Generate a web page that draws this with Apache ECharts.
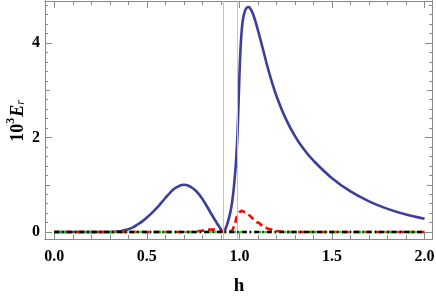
<!DOCTYPE html>
<html><head><meta charset="utf-8">
<script src="https://cdn.jsdelivr.net/npm/echarts@6/dist/echarts.min.js"></script>
<style>html,body{margin:0;padding:0;background:#fff}#c{width:436px;height:297px}</style>
</head><body><div id="c"></div>
<script>
const blueX = [0, 0.30, 0.325, 0.35, 0.375, 0.40, 0.425, 0.45, 0.475, 0.50, 0.525, 0.55, 0.575, 0.60, 0.625, 0.65, 0.675, 0.70, 0.725, 0.75, 0.775, 0.80, 0.825, 0.85, 0.875, 0.895, 0.913, 0.93, 0.94, 0.95, 0.96, 0.97, 0.98, 0.985, 0.99, 0.995, 1.00, 1.005, 1.01, 1.015, 1.02, 1.03, 1.04, 1.05, 1.06, 1.075, 1.10, 1.125, 1.15, 1.175, 1.20, 1.25, 1.30, 1.35, 1.40, 1.50, 1.60, 1.70, 1.80, 1.90, 2.00];
const blueY = [0, 0, 0.004, 0.015, 0.035, 0.06, 0.10, 0.16, 0.225, 0.305, 0.395, 0.495, 0.605, 0.72, 0.83, 0.92, 0.975, 1.0, 0.98, 0.92, 0.83, 0.70, 0.54, 0.37, 0.21, 0.09, 0, 0.12, 0.25, 0.40, 0.62, 0.95, 1.40, 1.72, 2.12, 2.7, 3.3, 3.8, 4.15, 4.38, 4.52, 4.68, 4.75, 4.76, 4.72, 4.6, 4.27, 3.9, 3.52, 3.18, 2.88, 2.40, 2.03, 1.74, 1.51, 1.14, 0.86, 0.65, 0.49, 0.37, 0.28];
const redX = [0, 0.5, 0.74, 0.77, 0.80, 0.83, 0.86, 0.89, 0.913, 0.94, 0.96, 0.975, 0.985, 1.0, 1.012, 1.03, 1.05, 1.075, 1.10, 1.13, 1.16, 1.2, 1.25, 1.5, 2.0];
const redY = [0, 0, 0, 0.01, 0.03, 0.05, 0.05, 0.03, 0, 0.01, 0.03, 0.15, 0.32, 0.42, 0.45, 0.42, 0.36, 0.28, 0.20, 0.12, 0.06, 0.02, 0, 0, 0];
const greenX = [0, 2.0];
const greenY = [0, 0];
const blackX = [0, 2.0];
const blackY = [0, 0];
const vLines = [0.913, 0.994];
const xMajor = [0, 0.5, 1.0, 1.5, 2.0];
const xMinor = [0.1,0.2,0.3,0.4,0.6,0.7,0.8,0.9,1.1,1.2,1.3,1.4,1.6,1.7,1.8,1.9];
const yMajor = [0, 2, 4];
const yMid = [1, 3];
const yMinor = [0.2,0.4,0.6,0.8,1.2,1.4,1.6,1.8,2.2,2.4,2.6,2.8,3.2,3.4,3.6,3.8,4.2,4.4,4.6,4.8];

const pairs = (xs, ys) => xs.map((x, i) => [x, ys[i]]);
const FONT = 'Liberation Serif';
const X0 = -0.05, X1 = 2.04, Y0 = -0.148, Y1 = 4.89;
const axisCol = '#8a8a8a';

function xAx(pos, vals, len, labels) {
  return {
    type: 'value', position: pos, min: X0, max: X1,
    axisLine: { show: true, onZero: false, lineStyle: { color: axisCol, width: 1 } },
    axisTick: { show: true, inside: true, length: len, customValues: vals, lineStyle: { color: axisCol } },
    axisLabel: labels ? { show: true, customValues: vals, margin: 10, color: '#000', fontFamily: FONT, fontWeight: 'bold', fontSize: 16,
      formatter: v => v.toFixed(1) } : { show: false },
    splitLine: { show: false }
  };
}
function yAx(pos, vals, len, labels) {
  return {
    type: 'value', position: pos, min: Y0, max: Y1,
    axisLine: { show: true, onZero: false, lineStyle: { color: axisCol, width: 1 } },
    axisTick: { show: true, inside: true, length: len, customValues: vals, lineStyle: { color: axisCol } },
    axisLabel: labels ? { show: true, customValues: vals, margin: 5, color: '#000', fontFamily: FONT, fontWeight: 'bold', fontSize: 16,
      formatter: v => String(Math.round(v)) } : { show: false },
    splitLine: { show: false }
  };
}

const chart = echarts.init(document.getElementById('c'), null, { renderer: 'canvas' });
chart.setOption({
  animation: false,
  backgroundColor: '#fff',
  grid: { left: 45, right: 4, top: 1, bottom: 58, containLabel: false, outerBoundsMode: 'none' },
  xAxis: [
    xAx('bottom', xMajor, 7, true),
    xAx('bottom', xMinor, 4, false),
    xAx('top', xMajor, 7, false),
    xAx('top', xMinor, 4, false)
  ],
  yAxis: [
    yAx('left', yMajor, 7, true),
    yAx('left', yMid, 5, false),
    yAx('left', yMinor, 3, false),
    yAx('right', yMajor, 7, false),
    yAx('right', yMid, 5, false),
    yAx('right', yMinor, 3, false)
  ],
  series: [
    { type: 'line', data: pairs(blueX, blueY), showSymbol: false, smooth: 0.4, z: 3,
      lineStyle: { color: '#3d3d9a', width: 2.6 },
      markLine: { silent: true, symbol: 'none', label: { show: false },
        lineStyle: { color: '#c4c4c4', width: 1, type: 'solid' },
        data: vLines.map(v => ({ xAxis: v })) } },
    { type: 'line', data: pairs(redX, redY), showSymbol: false, smooth: 0.3, smoothMonotone: 'x', z: 4,
      lineStyle: { color: '#ff0000', width: 2.6, type: [7, 4] } },
    { type: 'line', data: pairs(greenX, greenY), showSymbol: false, z: 5,
      lineStyle: { color: '#00e000', width: 2.6, type: [2, 3] } },
    { type: 'line', data: pairs(blackX, blackY), showSymbol: false, z: 6,
      lineStyle: { color: '#000000', width: 2.6, type: [5, 3, 1.5, 3] } }
  ],
  graphic: [
    { type: 'text', x: 239, y: 286, style: { text: 'h', fontFamily: FONT, fontWeight: 'bold', fontSize: 19, fill: '#000', align: 'center', verticalAlign: 'middle' } },
    { type: 'text', x: 16, y: 121, rotation: Math.PI / 2,
      style: { text: '{b|10}{sup|3}{it|E}{sub|r}', align: 'center', verticalAlign: 'middle', fill: '#000',
        rich: {
          b: { fontFamily: FONT, fontWeight: 'bold', fontSize: 18, lineHeight: 22, verticalAlign: 'bottom' },
          sup: { fontFamily: FONT, fontWeight: 'bold', fontSize: 12, lineHeight: 22, verticalAlign: 'top', padding: [0, 1, 0, 0] },
          it: { fontFamily: FONT, fontWeight: 'bold', fontStyle: 'italic', fontSize: 18, lineHeight: 22, verticalAlign: 'bottom' },
          sub: { fontFamily: FONT, fontStyle: 'italic', fontSize: 12, lineHeight: 22, verticalAlign: 'bottom', padding: [4, 0, 0, 0] }
        } } }
  ]
});
</script></body></html>
